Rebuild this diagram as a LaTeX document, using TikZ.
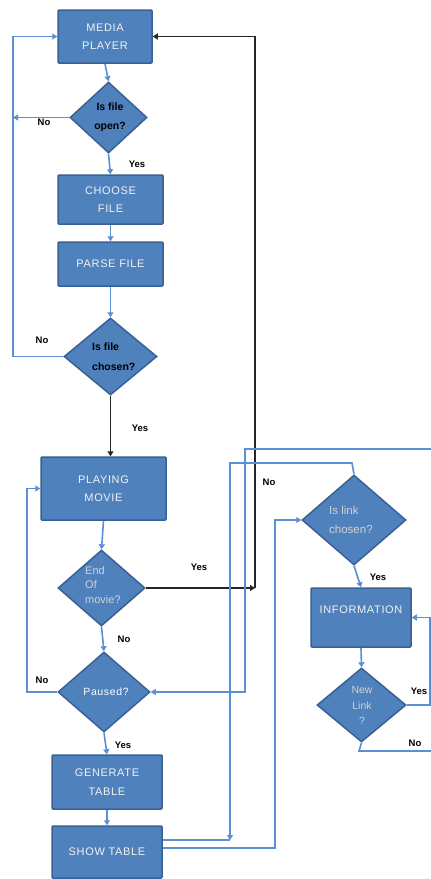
\documentclass[tikz,border=0pt]{standalone}
\usepackage{fontspec}
\setmainfont{Liberation Sans}
\newfontfamily\boxfont[LetterSpace=6]{Liberation Sans}
\usetikzlibrary{shapes.geometric,arrows.meta}
\definecolor{fillb}{HTML}{4F81BD}
\definecolor{edgeb}{HTML}{3A6193}
\definecolor{lineb}{HTML}{5B8FD3}
\definecolor{softtxt}{HTML}{D2D2D2}
\definecolor{boxtxt}{HTML}{F2F2F2}
\tikzset{
  box/.style={draw=edgeb, fill=fillb, line width=1.5pt, rounded corners=1pt, inner sep=0pt},
  dia/.style={diamond, draw=edgeb, fill=fillb, line width=1.5pt, inner sep=0pt},
  btext/.style={font=\boxfont\fontsize{11}{18.5}\selectfont, text=boxtxt, align=center},
  dtext/.style={font=\bfseries\fontsize{10.5}{19.5}\selectfont, align=center, inner sep=0pt},
  gtext/.style={font=\fontsize{11}{14.5}\selectfont, text=softtxt, inner sep=0pt},
  lab/.style={font=\bfseries\fontsize{9.5}{10}\selectfont, inner sep=0pt},
  conn/.style={draw=lineb, line width=1.6pt, -{Triangle[length=5pt,width=6pt]}},
  plain/.style={draw=lineb, line width=1.6pt},
  blk/.style={draw=black!85, line width=1.4pt, -{Triangle[length=5pt,width=6pt]}},
}
\begin{document}
\begin{tikzpicture}[x=1pt,y=-1pt]
\useasboundingbox[fill=white] (0,0) rectangle (431,879);

% boxes
\node[box, minimum width=94pt, minimum height=53pt, btext] (mp) at (105,36.5) {MEDIA\\PLAYER};
\node[box, minimum width=105pt, minimum height=49pt, btext] (cf) at (110.5,199.5) {CHOOSE\\FILE};
\node[box, minimum width=105pt, minimum height=44pt, btext] (pf) at (110.5,264) {PARSE FILE};
\node[box, minimum width=125pt, minimum height=63pt, btext] (pm) at (103.5,488.5) {PLAYING\\MOVIE};
\node[box, minimum width=110pt, minimum height=54pt, btext] (gt) at (107,782) {GENERATE\\TABLE};
\node[box, minimum width=110pt, minimum height=52pt, btext] (st) at (107,852) {SHOW TABLE};
\node[box, minimum width=100pt, minimum height=59pt, btext] (info) at (361,617.5) {INFORMATION\\[-2pt]~};

% diamonds
\node[dia, minimum width=77pt, minimum height=71pt] (d1) at (108.5,117.5) {};
\node[dia, minimum width=93pt, minimum height=77pt] (d2) at (110.5,356.5) {};
\node[dia, minimum width=87pt, minimum height=76pt] (d3) at (101.5,588) {};
\node[dia, minimum width=92pt, minimum height=80pt] (d4) at (104,692) {};
\node[dia, minimum width=104pt, minimum height=90pt] (d5) at (354,520) {};
\node[dia, minimum width=89pt, minimum height=74pt] (d6) at (361.5,705) {};

% diamond texts
\node[dtext] (t1) at (110,117.5) {Is file\\open?};
\node[dtext, align=left, anchor=west] (t2) at (92,356.5) {Is file\\chosen?};
\node[gtext, align=left, anchor=west] (t3) at (85,585) {End\\Of\\movie?};
\node[btext, font=\boxfont\fontsize{10.5}{12}\selectfont, text=white] (t4) at (106,692) {Paused?};
\node[gtext, font=\fontsize{11.5}{19.5}\selectfont, align=left, anchor=west] (t5) at (329,520) {Is link\\chosen?};
\node[gtext, font=\fontsize{10.5}{15.5}\selectfont, align=center] (t6) at (362,705.5) {New\\Link\\?};

% coordinates
\coordinate (lno) at (13,117.5);
\coordinate (lt) at (13,36.5);
\coordinate (lp) at (27,488.5);
\coordinate (bk) at (255,588);
\coordinate (n1) at (352,463);
\coordinate (n2) at (230,840);
\coordinate (s1) at (275,848);
\coordinate (ry) at (430,705);
\coordinate (rn) at (359,751);
\coordinate (rx) at (445,751);
\coordinate (rt) at (445,449);
\coordinate (lb) at (245,449);

% connectors left column
\draw[conn] (mp.south) -- (d1.north);
\draw[conn] (d1.west) -- (lno);
\draw[conn] (d2.west) -| (lt) -- (mp.west);
\draw[conn] (d1.south) -- (cf.north);
\draw[conn] (cf.south) -- (pf.north);
\draw[conn] (pf.south) -- (d2.north);
\draw[blk] (d2.south) -- (d2.south |- pm.north);
\draw[conn] (pm.south) -- (d3.north);
\draw[blk] (d3.east) -- (bk);
\draw[blk] (bk) |- (mp.east);
\draw[conn] (d3.south) -- (d4.north);
\draw[conn] (d4.west) -| (lp) -- (pm.west);
\draw[conn] (d4.south) -- (gt.north);
\draw[conn] (gt.south) -- (st.north);

% connectors right column
\draw[conn] (d5.north) -- (n1) -| (n2);
\draw[plain] (n2) -- (n2 -| st.east);
\draw[conn] (s1 -| st.east) -- (s1) |- (d5.west);
\draw[conn] (d5.south) -- (info.north);
\draw[conn] (info.south) -- (d6.north);
\draw[conn] (d6.east) -- (ry) |- (info.east);
\draw[conn] (d6.south) -- (rn) -- (rx) -- (rt) -- (lb) |- (d4.east);

% labels
\node[lab] (l1) at (44,122) {No};
\node[lab] (l2) at (137,164) {Yes};
\node[lab] (l3) at (42,340) {No};
\node[lab] (l4) at (140,428) {Yes};
\node[lab] (l5) at (269,482) {No};
\node[lab] (l6) at (199,567) {Yes};
\node[lab] (l7) at (124,639) {No};
\node[lab] (l8) at (42,680) {No};
\node[lab] (l9) at (123,745) {Yes};
\node[lab] (l10) at (378,577) {Yes};
\node[lab] (l11) at (419,691) {Yes};
\node[lab] (l12) at (415,743) {No};
\end{tikzpicture}
\end{document}
